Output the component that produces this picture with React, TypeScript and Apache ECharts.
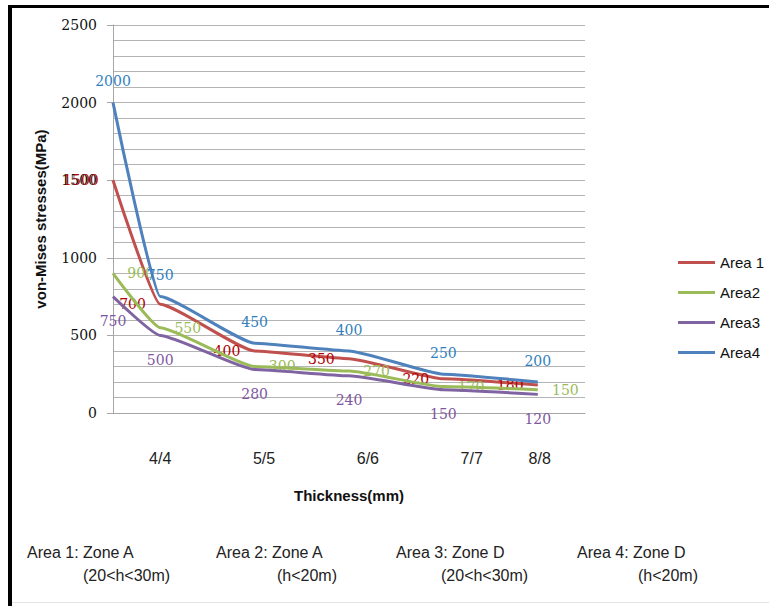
import React, { useEffect, useRef } from "react";
import * as echarts from "echarts";

// Thickness positions of the points (mm) — first point sits on the y axis
const thickness = [3.5, 4, 5, 6, 7, 8];
const area1 = [1500, 700, 400, 350, 220, 180];
const area2 = [900, 550, 300, 270, 170, 150];
const area3 = [750, 500, 280, 240, 150, 120];
const area4 = [2000, 750, 450, 400, 250, 200];
const seriesNames = ["Area 1", "Area2", "Area3", "Area4"];
// x tick labels and where they sit on the thickness scale (as placed in the source figure)
const xTickLabels = ["4/4", "5/5", "6/6", "7/7", "8/8"];
const xTickPositions = [4, 5.1, 6.2, 7.3, 8.02];
const zoneNotes = [
  ["Area 1: Zone A", "(20<h<30m)"],
  ["Area 2: Zone A", "(h<20m)"],
  ["Area 3: Zone D", "(20<h<30m)"],
  ["Area 4: Zone D", "(h<20m)"],
];

const lineColors = ["#C0504D", "#9BBB59", "#8064A2", "#4F81BD"];
const labelColors = ["#B00000", "#9BBB59", "#7E57A0", "#2F80C0"];
const labelPos = ["left", "right", "bottom", "top"];
const labelDist = [14, 14, 17, 14];

export default function App() {
  const ref = useRef<HTMLDivElement>(null);
  useEffect(() => {
    if (!ref.current) return;
    const chart = echarts.init(ref.current, undefined, { renderer: "svg" });
    const all = [area1, area2, area3, area4];
    const series = all.map((vals, i) => ({
      name: seriesNames[i],
      type: "line",
      data: vals.map((v, j) => [thickness[j], v]),
      smooth: 0.15,
      smoothMonotone: "x",
      symbol: "circle",
      symbolSize: 0.5,
      showSymbol: true,
      lineStyle: { color: lineColors[i], width: 3 },
      itemStyle: { color: lineColors[i] },
      label: {
        show: true,
        position: labelPos[i],
        distance: labelDist[i],
        color: labelColors[i],
        fontFamily: "DejaVu Serif",
        fontSize: 14,
        formatter: (p: any) => String(p.value[1]),
      },
      z: 2 + i,
    }));
    const noteX = [[27, 83], [216, 277], [396, 441], [577, 638]];
    const graphics: any[] = [
      { type: "rect", shape: { x: 8, y: 5, width: 761, height: 3 }, style: { fill: "#000" } },
      { type: "rect", shape: { x: 8, y: 5, width: 4, height: 601 }, style: { fill: "#000" } },
      { type: "line", shape: { x1: 12, y1: 602.5, x2: 769, y2: 602.5 }, style: { stroke: "#e4e4e4", lineWidth: 1 } },
    ];
    zoneNotes.forEach((n, i) => {
      graphics.push({
        type: "text",
        x: noteX[i][0],
        y: 552,
        style: { text: n[0], font: "16px 'Liberation Sans'", fill: "#222", verticalAlign: "middle" },
      });
      graphics.push({
        type: "text",
        x: noteX[i][1],
        y: 575,
        style: { text: n[1], font: "16px 'Liberation Sans'", fill: "#222", verticalAlign: "middle" },
      });
    });
    chart.setOption({
      animation: false,
      backgroundColor: "#fff",
      grid: { left: 113, right: 184, top: 25, bottom: 193 },
      legend: {
        orient: "vertical",
        left: 673,
        top: 250,
        itemWidth: 37,
        itemHeight: 14,
        itemGap: 15,
        icon: "path://M0,0h37v3h-37z",
        data: seriesNames,
        textStyle: { fontFamily: "Liberation Sans", fontSize: 15, color: "#111" },
      },
      xAxis: {
        type: "value",
        min: 3.5,
        max: 8.5,
        name: "Thickness(mm)",
        nameLocation: "middle",
        nameGap: 75,
        nameTextStyle: { fontFamily: "Liberation Sans", fontWeight: "bold", fontSize: 15, color: "#111" },
        axisLine: { show: true, lineStyle: { color: "#a6a6a6", width: 1 } },
        axisTick: { show: false },
        splitLine: { show: false },
        axisLabel: {
          customValues: xTickPositions,
          margin: 37,
          fontFamily: "Liberation Sans",
          fontSize: 16,
          color: "#222",
          formatter: (v: number) => {
            let best = 0;
            xTickPositions.forEach((p, k) => {
              if (Math.abs(p - v) < Math.abs(xTickPositions[best] - v)) best = k;
            });
            return xTickLabels[best];
          },
        },
      },
      yAxis: {
        type: "value",
        min: 0,
        max: 2500,
        interval: 500,
        name: "von-Mises stresses(MPa)",
        nameLocation: "middle",
        nameGap: 65,
        nameTextStyle: { fontFamily: "Liberation Sans", fontWeight: "bold", fontSize: 15, color: "#111" },
        axisLine: { show: true, lineStyle: { color: "#a6a6a6", width: 1 } },
        axisTick: { show: true, length: 6, lineStyle: { color: "#a6a6a6" } },
        axisLabel: {
          margin: 16,
          fontFamily: "DejaVu Serif",
          fontSize: 14,
          color: "#111",
          formatter: (v: number) => String(v),
        },
        splitLine: { show: true, lineStyle: { color: "#b4b4b4", width: 1 } },
        minorTick: { show: false, splitNumber: 5 },
        minorSplitLine: { show: true, lineStyle: { color: "#b4b4b4", width: 1 } },
      },
      series,
      graphic: graphics,
    });
    return () => chart.dispose();
  }, []);
  return (
    <div
      ref={ref}
      style={{ position: "fixed", left: 0, top: 0, width: 769, height: 606 }}
    />
  );
}
